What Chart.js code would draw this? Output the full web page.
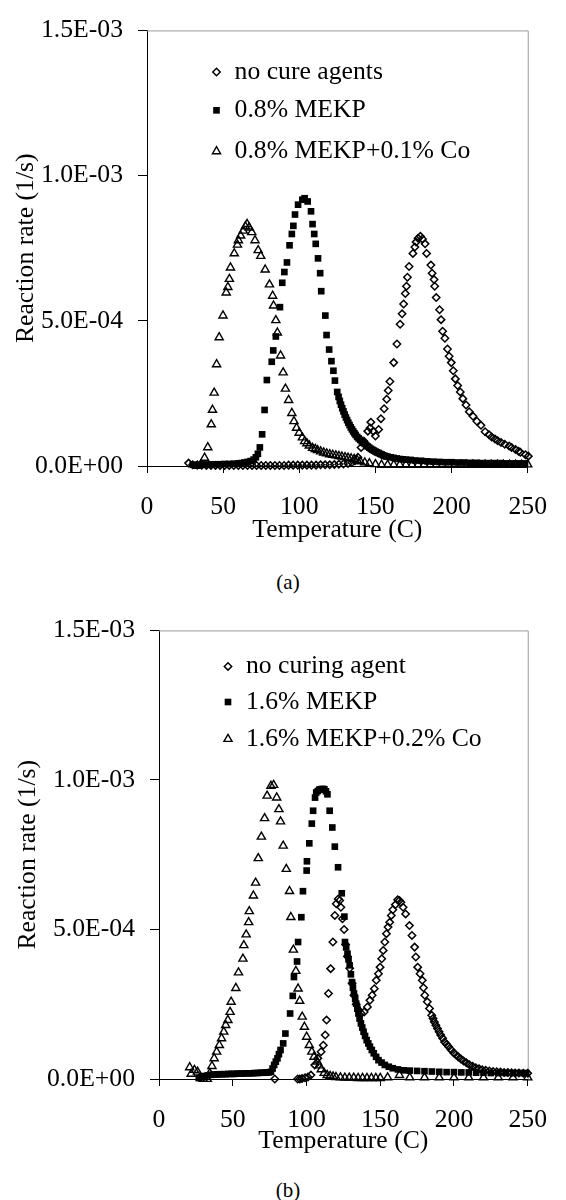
<!DOCTYPE html>
<html>
<head>
<meta charset="utf-8">
<script src="https://cdn.jsdelivr.net/npm/chart.js@4.4.0/dist/chart.umd.min.js"></script>
<style>
  body { margin: 0; background: #fff; }
  #wrap { position: relative; width: 566px; height: 1200px; overflow: hidden; background: #fff; }
  canvas { position: absolute; left: 0; }
  .cap { position: absolute; width: 60px; text-align: center; font-family: "Liberation Serif", "Times New Roman", serif; font-size: 21px; line-height: 24px; color: #000; }
</style>
</head>
<body>
<div id="wrap">
  <canvas id="chartA" width="566" height="560" style="top:0px;width:566px;height:560px"></canvas>
  <div class="cap" style="left:258px;top:570px">(a)</div>
  <canvas id="chartB" width="566" height="571" style="top:600px;width:566px;height:571px"></canvas>
  <div class="cap" style="left:258px;top:1178px">(b)</div>
</div>
<script>
// ---------- data ----------
const xTickValues = [0, 50, 100, 150, 200, 250];
const yTickValues = [0, 0.5e-3, 1.0e-3, 1.5e-3];
const xAxisTitle = 'Temperature (C)';
const yAxisTitle = 'Reaction rate (1/s)';
const labelsA = ['no cure agents', '0.8% MEKP', '0.8% MEKP+0.1% Co'];
const labelsB = ['no curing agent', '1.6% MEKP', '1.6% MEKP+0.2% Co'];

// (a) no cure agents
const aNoCureT = [27.3, 30, 33, 36, 39, 42, 45, 48, 51, 54, 57, 60, 63, 66, 69, 72, 75, 78, 81, 84, 87, 90, 93, 96, 99, 102, 105, 108, 111, 114, 117, 120, 123, 126, 129, 132, 134.5, 136.5,
  138.5, 140.6, 142.5, 145.0, 146.5, 147.0, 148.6, 150.0, 152.1, 153.6,
  155.7, 157.4, 158.4, 159.5, 162.0, 164.1, 166.2, 167.5, 168.5, 169.6,
  170.4, 171.0, 172.1, 174.6, 175.9, 176.7, 178.0, 179.5, 180.9, 182.6,
  183.6, 186.4, 187.2, 188.5, 188.9, 189.9, 192.1, 193.1, 194.1, 195.6,
  197.3, 198.4, 199.8, 201.1, 202.5, 204.0, 205.7, 207.4, 209.5, 211.6,
  214.1, 216.6, 219.3, 222.0, 224.6, 226.3, 228.5, 230.3, 232.5, 234.9,
  237.8, 239.4, 242.0, 244.0, 245.2, 248.5, 250.4];
const aNoCureRate = [0.010e-3,
  0.004e-3, 0.003e-3, 0.003e-3,
  0.002e-3, 0.002e-3, 0.002e-3, 0.002e-3, 0.002e-3, 0.002e-3, 0.002e-3, 0.002e-3, 0.002e-3,
  0.002e-3, 0.002e-3, 0.002e-3, 0.002e-3, 0.002e-3, 0.002e-3, 0.002e-3, 0.002e-3, 0.002e-3,
  0.003e-3, 0.003e-3, 0.003e-3, 0.003e-3, 0.003e-3, 0.003e-3, 0.003e-3,
  0.004e-3, 0.004e-3, 0.004e-3,
  0.005e-3, 0.006e-3, 0.007e-3, 0.009e-3,
  0.012e-3, 0.018e-3,
  0.030e-3, 0.064e-3, 0.085e-3, 0.120e-3, 0.131e-3, 0.151e-3, 0.120e-3, 0.103e-3, 0.126e-3, 0.163e-3,
  0.197e-3, 0.230e-3, 0.260e-3, 0.291e-3, 0.356e-3, 0.420e-3, 0.488e-3, 0.524e-3, 0.558e-3, 0.594e-3,
  0.619e-3, 0.650e-3, 0.687e-3, 0.732e-3, 0.754e-3, 0.771e-3, 0.784e-3, 0.791e-3, 0.782e-3, 0.765e-3,
  0.732e-3, 0.692e-3, 0.664e-3, 0.642e-3, 0.619e-3, 0.580e-3, 0.538e-3, 0.504e-3, 0.464e-3, 0.440e-3,
  0.403e-3, 0.378e-3, 0.356e-3, 0.328e-3, 0.300e-3, 0.277e-3, 0.255e-3, 0.232e-3, 0.210e-3, 0.187e-3,
  0.171e-3, 0.154e-3, 0.140e-3, 0.118e-3, 0.108e-3, 0.100e-3, 0.093e-3, 0.087e-3, 0.081e-3, 0.075e-3,
  0.069e-3, 0.064e-3, 0.057e-3, 0.051e-3, 0.047e-3, 0.039e-3, 0.034e-3];

// (a) 0.8% MEKP
const aMekpT = [30, 33, 36, 39, 42, 45, 48, 51, 54, 57, 60,
  62, 64, 66, 68, 70, 71.5, 72.8,
  74.1, 75.6, 77.2, 78.7, 81.9, 82.9, 84.6, 87.3, 88.8, 90.2,
  91.9, 93.6, 95.1, 96.1, 97.2, 99.2, 102.0, 103.5, 105.5, 107.7,
  108.7, 109.8, 110.8, 112.3, 113.7, 114.4, 117.1, 117.9, 119.6, 121.1,
  122.4, 123.4, 124.9, 125.8, 126.6, 127.4, 128.2, 129.0, 129.8, 130.6,
  131.4, 132.2, 133.0, 133.8, 134.6, 135.4, 136.2, 137.0, 138.0, 139.0,
  140, 141, 142, 143, 144, 145, 146, 147, 148, 149,
  150, 151, 152, 153, 154, 155, 156, 157, 158, 160,
  162, 164, 166, 168, 170, 173, 176, 180, 184, 188,
  192, 196, 200, 204, 208, 212, 216, 220, 224, 228,
  232, 236, 240, 244, 248];
const aMekpRate = [0.004e-3, 0.004e-3, 0.005e-3, 0.005e-3, 0.005e-3, 0.006e-3, 0.006e-3, 0.007e-3, 0.007e-3, 0.008e-3, 0.009e-3,
  0.010e-3, 0.012e-3, 0.014e-3, 0.017e-3, 0.022e-3, 0.030e-3, 0.042e-3,
  0.064e-3, 0.109e-3, 0.193e-3, 0.296e-3, 0.359e-3, 0.398e-3, 0.446e-3, 0.547e-3, 0.631e-3, 0.668e-3,
  0.701e-3, 0.760e-3, 0.799e-3, 0.827e-3, 0.866e-3, 0.900e-3, 0.917e-3, 0.922e-3, 0.911e-3, 0.877e-3,
  0.833e-3, 0.799e-3, 0.765e-3, 0.715e-3, 0.664e-3, 0.602e-3, 0.518e-3, 0.451e-3, 0.401e-3, 0.361e-3,
  0.328e-3, 0.294e-3, 0.255e-3, 0.238e-3, 0.224e-3, 0.211e-3, 0.199e-3, 0.188e-3, 0.177e-3, 0.167e-3,
  0.158e-3, 0.149e-3, 0.141e-3, 0.133e-3, 0.126e-3, 0.119e-3, 0.113e-3, 0.107e-3, 0.100e-3, 0.095e-3,
  0.090e-3, 0.085e-3, 0.080e-3, 0.076e-3, 0.071e-3, 0.067e-3, 0.063e-3, 0.059e-3, 0.056e-3, 0.053e-3,
  0.050e-3, 0.047e-3, 0.045e-3, 0.042e-3, 0.040e-3, 0.037e-3, 0.035e-3, 0.033e-3, 0.032e-3, 0.030e-3,
  0.028e-3, 0.026e-3, 0.024e-3, 0.023e-3, 0.022e-3, 0.021e-3, 0.019e-3, 0.018e-3, 0.016e-3, 0.015e-3,
  0.014e-3, 0.013e-3, 0.013e-3, 0.012e-3, 0.012e-3, 0.011e-3, 0.011e-3, 0.010e-3, 0.010e-3, 0.010e-3,
  0.010e-3, 0.009e-3, 0.009e-3, 0.009e-3, 0.009e-3];

// (a) 0.8% MEKP + 0.1% Co
const aCoT = [33.0, 35.3, 37.8, 39.9, 42.2, 43.0, 44.1, 45.7, 47.4, 49.9,
  52.0, 53.1, 54.1, 54.8, 57.3, 59.4, 60.0, 61.5, 63.2, 64.6,
  65.7, 67.1, 68.8, 70.9, 73.0, 74.7, 77.6, 80.4, 82.5, 83.1,
  84.6, 85.6, 87.7, 89.4, 90.9, 93.0, 95.1, 96.5, 98.2, 99.9,
  102.0, 103.5, 105.0, 106.6, 108.7, 110.5, 112, 114, 116, 118,
  120, 122, 124, 126, 128, 130, 132, 134, 136, 138,
  140, 143, 146, 150,
  154, 158, 162, 166, 170, 174, 178, 182, 186, 190, 194, 198, 202, 206, 210, 214, 218, 222, 226, 230, 234, 238, 242, 246, 250];
const aCoRate = [0.000e-3, 0.004e-3, 0.028e-3, 0.064e-3, 0.143e-3, 0.193e-3, 0.252e-3, 0.350e-3, 0.443e-3, 0.518e-3,
  0.597e-3, 0.616e-3, 0.644e-3, 0.683e-3, 0.732e-3, 0.762e-3, 0.777e-3, 0.793e-3, 0.810e-3, 0.825e-3,
  0.833e-3, 0.821e-3, 0.805e-3, 0.777e-3, 0.743e-3, 0.723e-3, 0.676e-3, 0.625e-3, 0.586e-3, 0.552e-3,
  0.502e-3, 0.459e-3, 0.380e-3, 0.322e-3, 0.266e-3, 0.227e-3, 0.182e-3, 0.154e-3, 0.131e-3, 0.114e-3,
  0.098e-3, 0.085e-3, 0.078e-3, 0.070e-3, 0.062e-3, 0.058e-3, 0.054e-3, 0.050e-3, 0.046e-3, 0.043e-3,
  0.040e-3, 0.038e-3, 0.036e-3, 0.034e-3, 0.032e-3, 0.030e-3, 0.028e-3, 0.026e-3, 0.024e-3, 0.020e-3,
  0.016e-3, 0.012e-3, 0.009e-3, 0.006e-3,
  0.004e-3, 0.004e-3, 0.004e-3, 0.004e-3, 0.004e-3, 0.004e-3, 0.004e-3, 0.004e-3, 0.004e-3, 0.004e-3,
  0.004e-3, 0.004e-3, 0.004e-3, 0.004e-3, 0.004e-3, 0.004e-3, 0.004e-3, 0.004e-3, 0.004e-3, 0.004e-3,
  0.004e-3, 0.004e-3, 0.004e-3, 0.004e-3, 0.005e-3];

// (b) no curing agent
const bNoCureT = [78.5, 94.0, 95.5, 97.0, 99.0, 101.0, 103.0,
  105.6, 107.7, 109.9, 111.4, 112.7, 113.6, 114.9, 116.4, 117.9, 119.2,
  120.2, 121.5, 122.5, 123.3, 124.4, 125.5, 126.5, 127.8, 129.3, 130.9,
  132.2, 133.7, 135.5, 137.0, 139.1, 141.3, 143.0, 144.5, 146.0, 147.3,
  148.8, 149.9, 151.0, 152.0, 153.1, 154.2, 155.3, 156.4, 157.5, 158.5,
  160.3, 161.8, 163.0, 164.0, 165.5, 167.2, 169.8, 171.5, 173.3, 174.1,
  175.4, 177.0, 178.5, 179.3, 180.2, 181.9, 183.4, 184.9, 185.8, 186.7,
  187.7, 188.8, 189.9, 191.0, 192.3, 193.6, 195.0, 196.4, 198.0, 199.7,
  201.3, 202.9, 204.7, 206.5, 208.4, 210.4, 212.6, 214.8, 217.0, 219.1,
  221.5, 224.0, 226.5, 229.0, 231.5, 234.0, 236.5, 239.0, 241.5, 244.0,
  247.0, 250.0];
const bNoCureRate = [0.000e-3, 0.000e-3, 0.000e-3, 0.002e-3, 0.004e-3, 0.007e-3, 0.013e-3,
  0.047e-3, 0.069e-3, 0.091e-3, 0.113e-3, 0.147e-3, 0.197e-3, 0.286e-3, 0.369e-3, 0.458e-3, 0.547e-3,
  0.586e-3, 0.602e-3, 0.597e-3, 0.574e-3, 0.536e-3, 0.500e-3, 0.450e-3, 0.410e-3, 0.370e-3, 0.320e-3,
  0.280e-3, 0.250e-3, 0.230e-3, 0.220e-3, 0.224e-3, 0.241e-3, 0.263e-3, 0.280e-3, 0.302e-3, 0.330e-3,
  0.352e-3, 0.374e-3, 0.402e-3, 0.430e-3, 0.458e-3, 0.486e-3, 0.508e-3, 0.524e-3, 0.547e-3, 0.566e-3,
  0.583e-3, 0.599e-3, 0.597e-3, 0.591e-3, 0.574e-3, 0.552e-3, 0.513e-3, 0.480e-3, 0.441e-3, 0.408e-3,
  0.374e-3, 0.352e-3, 0.330e-3, 0.305e-3, 0.280e-3, 0.258e-3, 0.236e-3, 0.213e-3, 0.202e-3, 0.191e-3,
  0.180e-3, 0.169e-3, 0.158e-3, 0.147e-3, 0.136e-3, 0.124e-3, 0.116e-3, 0.108e-3, 0.098e-3, 0.088e-3,
  0.081e-3, 0.074e-3, 0.067e-3, 0.060e-3, 0.054e-3, 0.048e-3, 0.043e-3, 0.038e-3, 0.034e-3, 0.031e-3,
  0.029e-3, 0.027e-3, 0.025e-3, 0.024e-3, 0.023e-3, 0.022e-3, 0.022e-3, 0.021e-3, 0.020e-3, 0.020e-3,
  0.019e-3, 0.019e-3];

// (b) 1.6% MEKP
const bMekpT = [27, 29, 31, 33, 35, 37, 39, 41, 43, 45,
  47, 49, 51, 53, 55, 57, 59, 61, 63, 65,
  67, 69, 71, 73, 74.5,
  75.9, 77.0, 78.1, 79.2, 80.3,
  81.3, 82.4, 84.2, 85.7, 88.9, 90.7, 91.5, 93.6, 94.3, 96.5,
  97.6, 100.1, 100.3, 101.9, 103.6, 104.5, 105.8, 106.6, 107.7, 108.8,
  109.9, 111.0, 112.1, 113.2, 114.2, 115.7, 117.5, 119.2, 121.4, 123.9,
  125.7, 126.1, 126.9, 127.8, 128.5, 129.3, 130.1, 130.9, 131.5, 132.2,
  133.0, 133.7, 134.5, 135.2, 136.0, 136.9, 137.8, 138.7, 139.7, 140.8,
  141.9, 143.0, 144.3, 145.6, 147.2, 148.8, 150.9, 153.1, 155.8, 158.5,
  162, 166, 170, 175, 180, 185, 190, 195, 200, 205,
  210, 215, 220, 225, 230, 235, 240, 245, 249];
const bMekpRate = [0.003e-3, 0.006e-3, 0.010e-3, 0.012e-3, 0.014e-3, 0.015e-3, 0.015e-3, 0.016e-3, 0.016e-3, 0.016e-3,
  0.017e-3, 0.017e-3, 0.017e-3, 0.018e-3, 0.018e-3, 0.018e-3, 0.019e-3, 0.019e-3, 0.019e-3, 0.020e-3,
  0.020e-3, 0.021e-3, 0.021e-3, 0.022e-3, 0.022e-3,
  0.024e-3, 0.035e-3, 0.047e-3, 0.058e-3, 0.069e-3,
  0.083e-3, 0.097e-3, 0.119e-3, 0.152e-3, 0.219e-3, 0.278e-3, 0.341e-3, 0.393e-3, 0.458e-3, 0.541e-3,
  0.628e-3, 0.697e-3, 0.728e-3, 0.788e-3, 0.854e-3, 0.897e-3, 0.941e-3, 0.958e-3, 0.963e-3, 0.968e-3,
  0.969e-3, 0.970e-3, 0.969e-3, 0.962e-3, 0.952e-3, 0.897e-3, 0.841e-3, 0.777e-3, 0.708e-3, 0.621e-3,
  0.543e-3, 0.458e-3, 0.440e-3, 0.419e-3, 0.400e-3, 0.380e-3, 0.350e-3, 0.324e-3, 0.305e-3, 0.286e-3,
  0.268e-3, 0.252e-3, 0.235e-3, 0.219e-3, 0.202e-3, 0.186e-3, 0.172e-3, 0.158e-3, 0.144e-3, 0.130e-3,
  0.119e-3, 0.108e-3, 0.097e-3, 0.086e-3, 0.074e-3, 0.063e-3, 0.055e-3, 0.047e-3, 0.041e-3, 0.036e-3,
  0.032e-3, 0.029e-3, 0.028e-3, 0.027e-3, 0.026e-3, 0.025e-3, 0.024e-3, 0.023e-3, 0.023e-3, 0.022e-3,
  0.022e-3, 0.021e-3, 0.021e-3, 0.020e-3, 0.020e-3, 0.020e-3, 0.020e-3, 0.020e-3, 0.020e-3];

// (b) 1.6% MEKP + 0.2% Co
const bCoT = [20.8, 21.8, 24.0, 26.1, 28.0, 30.0, 32.7, 34.4, 35.9, 37.4,
  39.1, 40.9, 42.4, 43.9, 45.2, 46.7, 48.2, 48.9, 52.1, 53.9,
  56.9, 57.5, 59.1, 60.8, 61.2, 64.0, 65.5, 67.3, 69.4, 71.6,
  73.3, 75.9, 77.7, 79.8, 81.3, 82.4, 84.2, 86.3, 88.5, 89.4,
  91.1, 92.8, 94.3, 95.4, 97.1, 98.6, 100.1, 101.9, 103.6, 105.1,
  107.3, 108.6, 110.0, 112.0, 114.0, 116.0, 118, 120, 123, 126,
  129, 132, 135, 138, 141, 144, 147, 150, 155, 163,
  170, 180, 190, 200, 210, 220, 230, 240, 250];
const bCoRate = [0.039e-3, 0.017e-3, 0.030e-3, 0.024e-3, 0.006e-3, 0.000e-3, 0.000e-3, 0.019e-3, 0.043e-3, 0.069e-3,
  0.091e-3, 0.113e-3, 0.136e-3, 0.158e-3, 0.180e-3, 0.197e-3, 0.224e-3, 0.258e-3, 0.304e-3, 0.356e-3,
  0.402e-3, 0.447e-3, 0.483e-3, 0.524e-3, 0.561e-3, 0.613e-3, 0.656e-3, 0.738e-3, 0.810e-3, 0.872e-3,
  0.947e-3, 0.980e-3, 0.983e-3, 0.941e-3, 0.902e-3, 0.861e-3, 0.780e-3, 0.702e-3, 0.628e-3, 0.541e-3,
  0.432e-3, 0.361e-3, 0.302e-3, 0.261e-3, 0.208e-3, 0.174e-3, 0.141e-3, 0.113e-3, 0.091e-3, 0.074e-3,
  0.058e-3, 0.045e-3, 0.032e-3, 0.020e-3, 0.013e-3, 0.010e-3, 0.008e-3, 0.006e-3, 0.005e-3, 0.004e-3,
  0.004e-3, 0.004e-3, 0.003e-3, 0.003e-3, 0.003e-3, 0.003e-3, 0.003e-3, 0.003e-3, 0.005e-3, 0.013e-3,
  0.005e-3, 0.005e-3, 0.005e-3, 0.005e-3, 0.005e-3, 0.005e-3, 0.005e-3, 0.005e-3, 0.005e-3];

// ---------- styling / rendering ----------
const FONT_FAMILY = '"Liberation Serif", "Times New Roman", serif';
const FONT_SIZE = 25.7;
const markerStyles = [
  { pointStyle: 'rectRot', pointRadius: 3.7, pointBorderWidth: 1.5, pointBackgroundColor: 'rgba(0,0,0,0)', pointBorderColor: '#000' },
  { pointStyle: 'rect', pointRadius: 4.7, pointBorderWidth: 0, pointBackgroundColor: '#000', pointBorderColor: '#000' },
  { pointStyle: 'triangle', pointRadius: 4.7, pointBorderWidth: 1.4, pointBackgroundColor: 'rgba(0,0,0,0)', pointBorderColor: '#000' }
];

function toPoints(xs, ys) { return xs.map((x, i) => ({ x: x, y: ys[i] })); }

function fmtE(v) {
  if (v === 0) return '0.0E+00';
  const s = Number(v).toExponential(1);
  const parts = s.split('e');
  const n = parseInt(parts[1], 10);
  return parts[0] + 'E' + (n < 0 ? '-' : '+') + String(Math.abs(n)).padStart(2, '0');
}

function drawMarker(ctx, st, x, y) {
  const r = st.pointRadius;
  ctx.save();
  ctx.lineWidth = st.pointBorderWidth || 1;
  ctx.strokeStyle = st.pointBorderColor;
  ctx.fillStyle = st.pointBackgroundColor;
  ctx.beginPath();
  if (st.pointStyle === 'rectRot') {
    ctx.moveTo(x - r, y); ctx.lineTo(x, y - r); ctx.lineTo(x + r, y); ctx.lineTo(x, y + r); ctx.closePath();
    ctx.stroke();
  } else if (st.pointStyle === 'rect') {
    const s = r * Math.SQRT1_2;
    ctx.rect(x - s, y - s, 2 * s, 2 * s);
    ctx.fill();
  } else {
    ctx.moveTo(x, y - r);
    ctx.lineTo(x + 0.866 * r, y + 0.5 * r);
    ctx.lineTo(x - 0.866 * r, y + 0.5 * r);
    ctx.closePath();
    ctx.stroke();
  }
  ctx.restore();
}

const framePlugin = {
  id: 'frameLines',
  beforeDatasetsDraw(chart) {
    const a = chart.chartArea, ctx = chart.ctx;
    ctx.save();
    ctx.strokeStyle = '#9a9a9a';
    ctx.lineWidth = 1;
    ctx.beginPath();
    ctx.moveTo(a.left, a.top + 0.5); ctx.lineTo(a.right + 0.5, a.top + 0.5);
    ctx.lineTo(a.right + 0.5, a.bottom);
    ctx.stroke();
    ctx.restore();
  }
};

const legendPlugin = {
  id: 'innerLegend',
  afterDraw(chart, args, opts) {
    const a = chart.chartArea, ctx = chart.ctx;
    ctx.save();
    ctx.font = FONT_SIZE + 'px ' + FONT_FAMILY;
    ctx.textAlign = 'left';
    ctx.textBaseline = 'middle';
    chart.data.datasets.forEach((ds, i) => {
      const y = a.top + opts.rows[i];
      drawMarker(ctx, markerStyles[i], a.left + opts.markerX, y);
      ctx.fillStyle = '#000';
      ctx.fillText(ds.label, a.left + opts.textX, y);
    });
    ctx.restore();
  }
};

function makeChart(id, labels, series, L) {
  const datasets = series.map((s, i) => Object.assign({
    label: labels[i],
    data: toPoints(s[0], s[1]),
    showLine: false,
    clip: false,
    order: 3 - i
  }, markerStyles[i]));
  return new Chart(document.getElementById(id), {
    type: 'scatter',
    data: { datasets: datasets },
    plugins: [framePlugin, legendPlugin],
    options: {
      responsive: false,
      animation: false,
      devicePixelRatio: 1,
      events: [],
      layout: { padding: { left: 0, top: L.padTop, right: L.padRight, bottom: 0 } },
      plugins: {
        legend: { display: false },
        tooltip: { enabled: false },
        innerLegend: L.legend
      },
      scales: {
        x: {
          type: 'linear',
          min: 0, max: 250,
          afterBuildTicks: (sc) => { sc.ticks = xTickValues.map(v => ({ value: v })); },
          afterFit: (sc) => { sc.height = L.xHeight; },
          grid: { display: true, drawOnChartArea: false, drawTicks: true, tickLength: 7, tickColor: '#000', color: '#000' },
          border: { display: true, color: '#000', width: 1 },
          ticks: { color: '#000', font: { family: FONT_FAMILY, size: FONT_SIZE }, padding: L.xTickPad, maxRotation: 0, autoSkip: false },
          title: { display: true, text: xAxisTitle, color: '#000', font: { family: FONT_FAMILY, size: FONT_SIZE }, padding: { top: 0, bottom: L.xTitlePad } }
        },
        y: {
          type: 'linear',
          min: 0, max: 1.5e-3,
          afterBuildTicks: (sc) => { sc.ticks = yTickValues.map(v => ({ value: v })); },
          afterFit: (sc) => { sc.width = L.yWidth; },
          grid: { display: true, drawOnChartArea: false, drawTicks: true, tickLength: 9, tickColor: '#000', color: '#000' },
          border: { display: true, color: '#000', width: 1 },
          ticks: { color: '#000', font: { family: FONT_FAMILY, size: FONT_SIZE }, padding: 15, callback: (v) => fmtE(v) },
          title: { display: true, text: yAxisTitle, color: '#000', font: { family: FONT_FAMILY, size: FONT_SIZE }, padding: { top: L.yTitlePad, bottom: 0 } }
        }
      }
    }
  });
}

makeChart('chartA', labelsA,
  [[aNoCureT, aNoCureRate], [aMekpT, aMekpRate], [aCoT, aCoRate]],
  { padTop: 20, padRight: 22, yWidth: 147, xHeight: 94, xTickPad: 19, xTitlePad: 14, yTitlePad: 11,
    legend: { markerX: 69.5, textX: 87.6, rows: [41.6, 79.9, 121] } });

makeChart('chartB', labelsB,
  [[bNoCureT, bNoCureRate], [bMekpT, bMekpRate], [bCoT, bCoRate]],
  { padTop: 29, padRight: 22, yWidth: 159, xHeight: 92, xTickPad: 19, xTitlePad: 14, yTitlePad: 13,
    legend: { markerX: 69, textX: 87, rows: [36, 71.6, 108.6] } });
</script>
</body>
</html>
